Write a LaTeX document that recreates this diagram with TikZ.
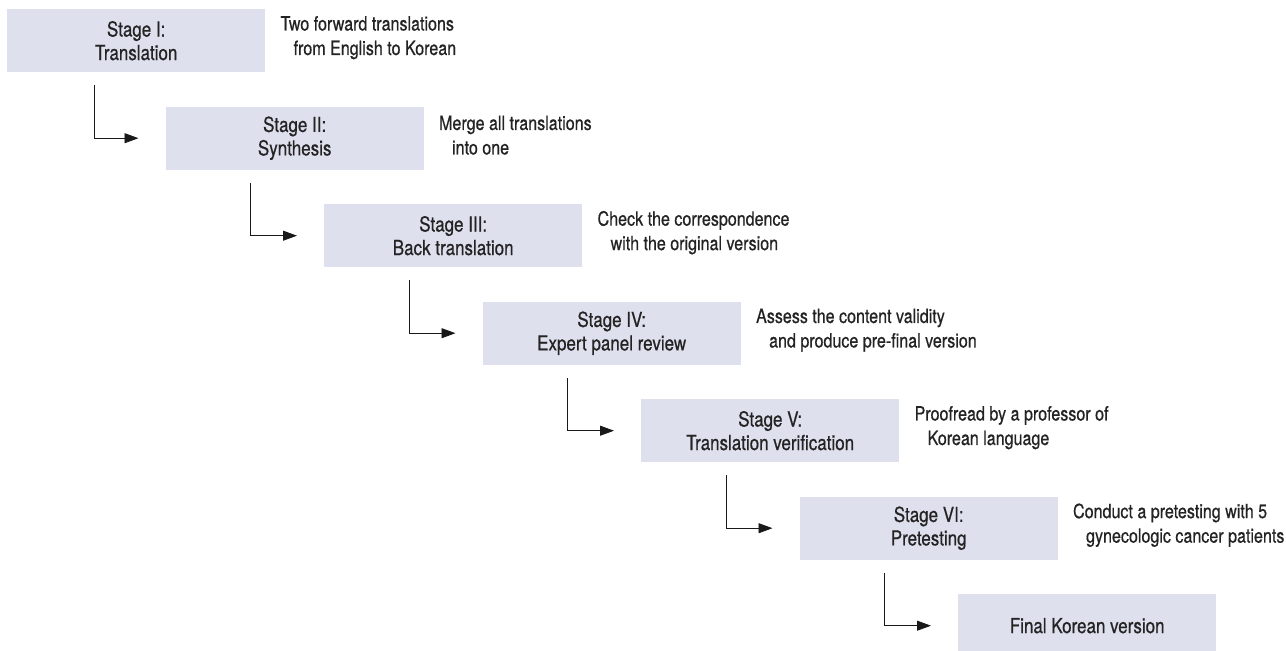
\documentclass[tikz,border=0pt]{standalone}
\usepackage{fontspec}
\setmainfont{TeX Gyre Heros}[FakeStretch=0.82,FakeBold=0.6]
\usetikzlibrary{arrows.meta,calc}
\definecolor{boxfill}{HTML}{DFE0EE}
\definecolor{txt}{HTML}{232323}
\begin{document}
\begin{tikzpicture}[x=1pt,y=-1pt,
  stagebox/.style={fill=boxfill, draw=none, minimum width=258pt, minimum height=63pt,
    inner sep=0pt, align=center, text=txt, font=\fontsize{20.7}{23.5}\selectfont},
  desc/.style={anchor=west, inner sep=0pt, align=left, text=txt,
    font=\fontsize{19.6}{24.5}\selectfont},
  conn/.style={draw=black!90, line width=0.9pt, -{Triangle[length=14pt,width=10pt]}}]
\useasboundingbox (0,0) rectangle (1286,651);
\clip (0,0) rectangle (1286,651);
\node[stagebox, anchor=north west] (b1) at (7,9) {Stage I:\\Translation};
\node[stagebox, anchor=north west] (b2) at (165.5,106.5) {Stage II:\\Synthesis};
\node[stagebox, anchor=north west] (b3) at (324,204) {Stage III:\\Back translation};
\node[stagebox, anchor=north west] (b4) at (482.5,301.5) {Stage IV:\\Expert panel review};
\node[stagebox, anchor=north west] (b5) at (641,399) {Stage V:\\Translation verification};
\node[stagebox, anchor=north west] (b6) at (799.5,496.5) {Stage VI:\\Pretesting};
\node[stagebox, anchor=north west] (b7) at (958,594) {Final Korean version};
\node[desc] (d1) at ($(b1.east)+(15,-3)$) {Two forward translations\\\hspace*{13pt}from English to Korean};
\node[desc] (d2) at ($(b2.east)+(15,-3)$) {Merge all translations\\\hspace*{13pt}into one};
\node[desc] (d3) at ($(b3.east)+(15,-3)$) {Check the correspondence\\\hspace*{13pt}with the original version};
\node[desc] (d4) at ($(b4.east)+(15,-3)$) {Assess the content validity\\\hspace*{13pt}and produce pre-final version};
\node[desc] (d5) at ($(b5.east)+(15,-3)$) {Proofread by a professor of\\\hspace*{13pt}Korean language};
\node[desc] (d6) at ($(b6.east)+(15,-3)$) {Conduct a pretesting with 5\\\hspace*{13pt}gynecologic cancer patients};
\coordinate (t2) at ($(b2.west)+(-27,0)$);
\coordinate (t3) at ($(b3.west)+(-27,0)$);
\coordinate (t4) at ($(b4.west)+(-27,0)$);
\coordinate (t5) at ($(b5.west)+(-27,0)$);
\coordinate (t6) at ($(b6.west)+(-27,0)$);
\coordinate (t7) at ($(b7.west)+(-27,0)$);
\draw[conn] ($(b1.south west)+(87,13)$) |- (t2);
\draw[conn] ($(b2.south west)+(85,13)$) |- (t3);
\draw[conn] ($(b3.south west)+(85,13)$) |- (t4);
\draw[conn] ($(b4.south west)+(85,13)$) |- (t5);
\draw[conn] ($(b5.south west)+(85,13)$) |- (t6);
\draw[conn] ($(b6.south west)+(85,13)$) |- (t7);
\end{tikzpicture}
\end{document}
